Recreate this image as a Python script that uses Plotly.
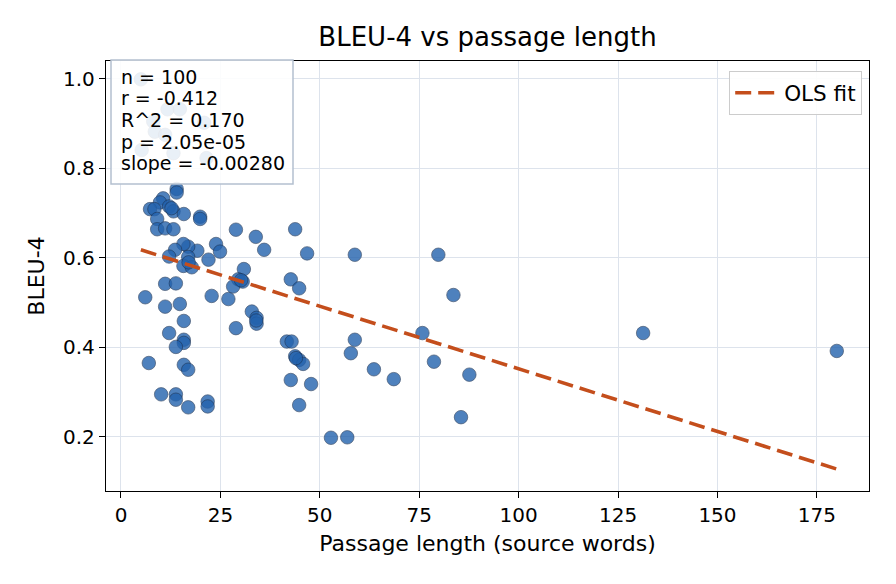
import plotly.graph_objects as go

# ---- data ----
passage_len = [
    5.0, 11.7, 14.8, 20.9, 8.1, 8.5, 11.1, 5.2, 13.2, 21.5,
    14.0, 14.0, 10.6, 9.8, 12.1, 13.2, 7.3, 8.4, 15.8, 19.9,
    19.9, 9.1, 9.1, 11.1, 13.2, 28.9, 33.9, 36.0, 43.8, 46.8,
    23.9, 24.9, 22.0, 19.2, 16.9, 15.7, 13.6, 12.1, 16.9, 15.7,
    17.8, 30.9, 29.5, 30.6, 28.2, 11.1, 13.8, 6.1, 11.1, 14.8,
    22.8, 27.0, 32.9, 34.1, 34.1, 15.8, 28.9, 12.1, 15.8, 15.8,
    13.8, 7.0, 15.8, 16.9, 10.1, 13.8, 13.8, 16.9, 21.8, 21.8,
    41.7, 42.9, 43.8, 44.8, 45.8, 42.7, 47.8, 44.8, 52.8, 56.9,
    58.8, 79.8, 42.7, 44.8, 83.6, 75.8, 58.8, 57.8, 63.6, 68.6,
    78.7, 87.6, 85.5, 131.3, 180.0, 12.7, 17.0, 30.2, 34.0, 44.0,
]
bleu4 = [
    0.999, 0.932, 0.932, 0.902, 0.905, 0.882, 0.875, 0.841, 0.834, 0.823,
    0.754, 0.746, 0.733, 0.724, 0.715, 0.704, 0.709, 0.709, 0.698, 0.692,
    0.687, 0.687, 0.664, 0.666, 0.664, 0.663, 0.647, 0.618, 0.664, 0.610,
    0.631, 0.614, 0.596, 0.616, 0.625, 0.631, 0.618, 0.603, 0.602, 0.582,
    0.579, 0.575, 0.552, 0.547, 0.536, 0.542, 0.543, 0.512, 0.491, 0.497,
    0.515, 0.508, 0.480, 0.466, 0.453, 0.459, 0.443, 0.432, 0.417, 0.410,
    0.401, 0.365, 0.361, 0.350, 0.295, 0.295, 0.283, 0.266, 0.279, 0.268,
    0.413, 0.413, 0.380, 0.372, 0.363, 0.327, 0.318, 0.271, 0.198, 0.199,
    0.607, 0.607, 0.552, 0.532, 0.517, 0.432, 0.417, 0.387, 0.351, 0.329,
    0.368, 0.339, 0.244, 0.432, 0.392, 0.711, 0.590, 0.550, 0.460, 0.376,
]

fit_intercept = 0.632
fit_slope = -0.00280
fit_x = [min(passage_len), max(passage_len)]
fit_y = [fit_intercept + fit_slope * v for v in fit_x]

stats_lines = [
    "n = 100",
    "r = -0.412",
    "R^2 = 0.170",
    "p = 2.05e-05",
    "slope = -0.00280",
]

x_ticks = [0, 25, 50, 75, 100, 125, 150, 175]
y_ticks = [0.2, 0.4, 0.6, 0.8, 1.0]
y_tick_labels = ["0.2", "0.4", "0.6", "0.8", "1.0"]

FONT = "DejaVu Sans"

# plot-area geometry (pixels)
W, H = 896, 584
L, R, T, B = 106, 869, 61, 491
PW, PH = R - L, B - T


def px_x(p):
    return (p - L) / PW


def px_y(p):
    return (B - p) / PH


fig = go.Figure()

fig.add_trace(go.Scatter(
    x=passage_len, y=bleu4, mode="markers",
    marker=dict(size=13.5, color="#2362AD", opacity=0.8,
                line=dict(color="#1a2f4f", width=0.7)),
    showlegend=False, hoverinfo="skip",
))

fig.add_trace(go.Scatter(
    x=fit_x, y=fit_y, mode="lines", name="OLS fit",
    line=dict(color="#C44E1C", width=3.6, dash="16px,7px"),
))

# stats box
fig.add_shape(type="rect", xref="paper", yref="paper",
              x0=px_x(111), x1=px_x(293), y0=px_y(184), y1=px_y(60),
              fillcolor="rgba(255,255,255,0.88)",
              line=dict(color="#b4c0cf", width=1.5), layer="above")

line_centers = [76.7, 98.3, 120.0, 141.7, 163.3]
for txt, yc in zip(stats_lines, line_centers):
    fig.add_annotation(xref="paper", yref="paper", x=px_x(119), y=px_y(yc),
                       xanchor="left", yanchor="middle", text=txt,
                       showarrow=False, align="left",
                       font=dict(family=FONT, size=19, color="black"))

grid_c = "#dde3ec"
fig.update_xaxes(
    range=[-3.77, 188.1], tickvals=x_ticks, ticktext=[str(v) for v in x_ticks],
    showgrid=True, gridcolor=grid_c, gridwidth=1.2, zeroline=False,
    showline=True, mirror=True, linecolor="black", linewidth=1.3,
    ticks="outside", ticklen=6, tickwidth=1.3, tickcolor="black",
    tickfont=dict(family=FONT, size=20, color="black"),
    title=dict(text="Passage length (source words)", standoff=9,
               font=dict(family=FONT, size=22, color="black")),
)
fig.update_yaxes(
    range=[0.079, 1.040], tickvals=y_ticks, ticktext=y_tick_labels,
    showgrid=True, gridcolor=grid_c, gridwidth=1.2, zeroline=False,
    showline=True, mirror=True, linecolor="black", linewidth=1.3,
    ticks="outside", ticklen=6, tickwidth=1.3, tickcolor="black",
    tickfont=dict(family=FONT, size=20, color="black"),
    title=dict(text="BLEU-4", standoff=12,
               font=dict(family=FONT, size=22, color="black")),
)

fig.update_layout(
    width=W, height=H,
    margin=dict(l=L, r=W - R, t=T, b=H - B, autoexpand=False),
    paper_bgcolor="white", plot_bgcolor="white",
    title=dict(text="BLEU-4 vs passage length", x=(L + R) / 2 / W, xanchor="center",
               y=1 - 37 / H, yanchor="middle", xref="container", yref="container",
               font=dict(family=FONT, size=26, color="black")),
    legend=dict(x=px_x(862), y=px_y(71), xanchor="right", yanchor="top",
                itemwidth=44, tracegroupgap=0,
                bgcolor="rgba(255,255,255,0.9)", bordercolor="#cccccc", borderwidth=1.2,
                font=dict(family=FONT, size=21.5, color="black")),
    showlegend=True,
)

fig.write_html("out.html")
